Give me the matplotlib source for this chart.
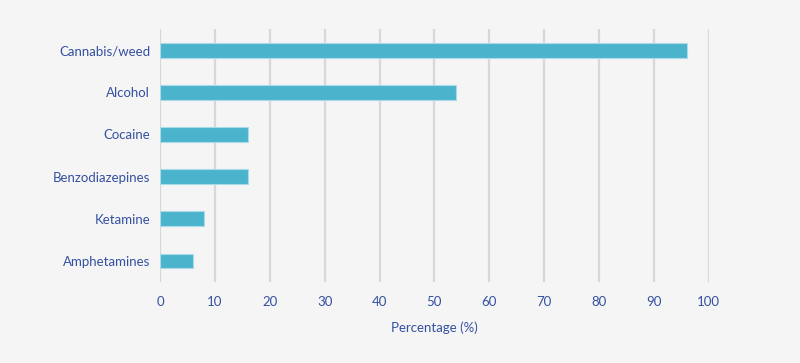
import matplotlib
matplotlib.use("Agg")
import matplotlib.pyplot as plt

categories = ["Cannabis/weed", "Alcohol", "Cocaine", "Benzodiazepines", "Ketamine", "Amphetamines"]
values = [96, 54, 16, 16, 8, 6]
xticks = [0, 10, 20, 30, 40, 50, 60, 70, 80, 90, 100]

bg = "#f5f5f5"
txt = "#3450a0"
bar_color = "#4bb3cc"
grid_color = "#d8d8d8"

plt.rcParams['font.family'] = ['Lato', 'DejaVu Sans']

fig = plt.figure(figsize=(8, 3.63), dpi=100, facecolor=bg)
ax = fig.add_axes([0.2, 0.223, 0.686, 0.697], facecolor=bg)

ypos = list(range(len(categories)))
ax.barh(ypos, values, height=0.35, color=bar_color, edgecolor="#a9dbe8", linewidth=0.8, zorder=3)
ax.set_ylim(len(categories) - 0.5, -0.5)
ax.set_xlim(0, 100)
ax.set_xticks(xticks)
ax.set_xticklabels([str(t) for t in xticks])
ax.set_yticks(ypos)
ax.set_yticklabels(categories)

for t in xticks:
    ax.axvline(t, color=grid_color, linewidth=1.6, zorder=1)

for s in ax.spines.values():
    s.set_visible(False)
ax.tick_params(axis="x", length=0, pad=10, labelsize=9.5, labelcolor=txt)
ax.tick_params(axis="y", length=0, pad=7, labelsize=9.5, labelcolor=txt)
ax.set_xlabel("Percentage (%)", color=txt, fontsize=9.5, labelpad=10)

fig.savefig("out.png", dpi=100, facecolor=bg)
